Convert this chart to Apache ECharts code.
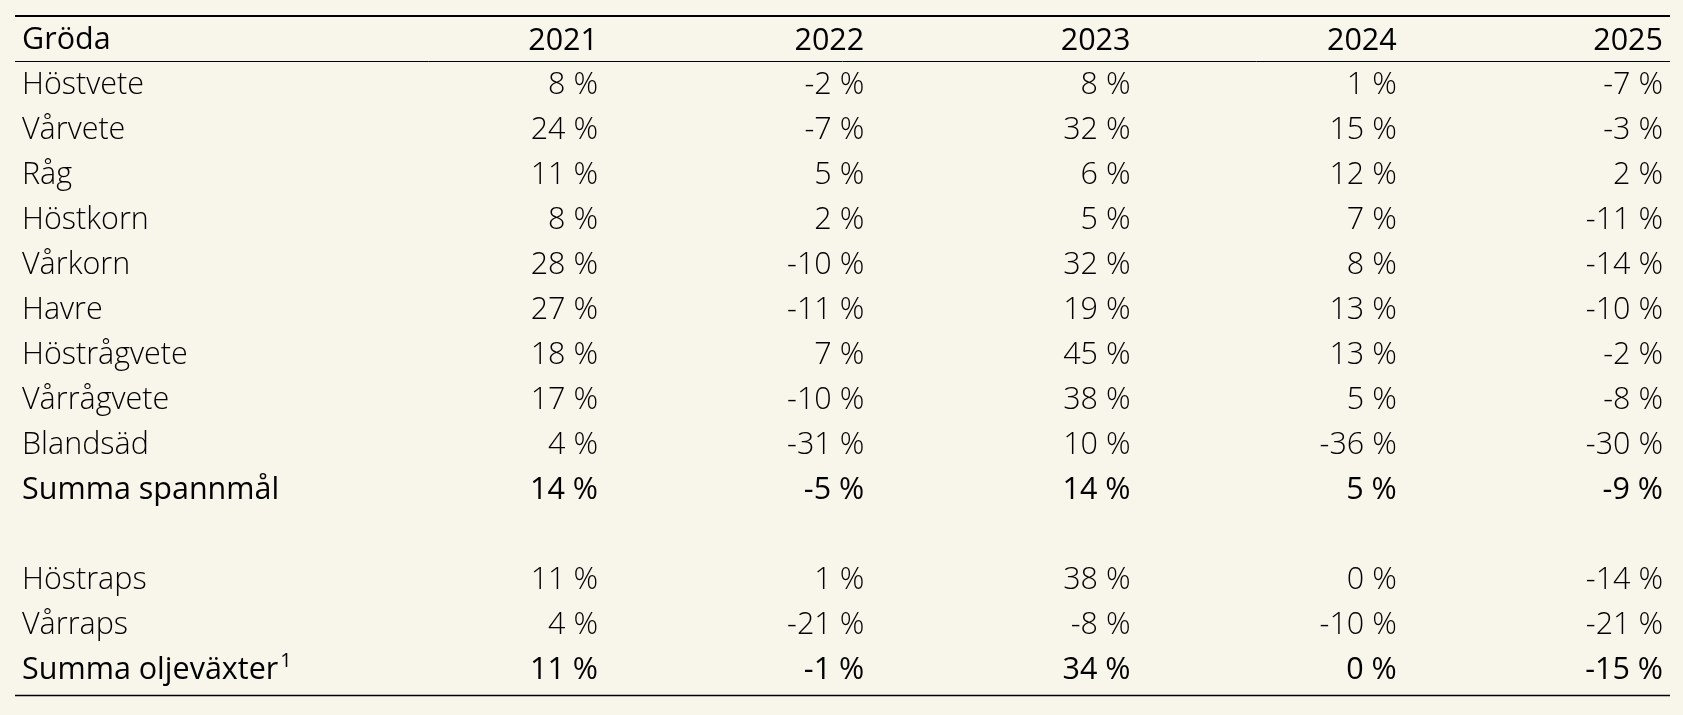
<!DOCTYPE html>
<html>
<head>
<meta charset="utf-8">
<script src="https://cdn.jsdelivr.net/npm/echarts@6/dist/echarts.min.js"></script>
<style>
html,body{margin:0;padding:0;background:#F8F5EA;}
#c{width:1683px;height:715px;}
</style>
</head>
<body>
<div id="c"></div>
<script>
var headerLabel = 'Gröda';
var years = ['2021', '2022', '2023', '2024', '2025'];
var crops = ['Höstvete', 'Vårvete', 'Råg', 'Höstkorn', 'Vårkorn', 'Havre', 'Höstrågvete', 'Vårrågvete', 'Blandsäd', 'Summa spannmål', '', 'Höstraps', 'Vårraps', 'Summa oljeväxter'];
var sumRows = ['Summa spannmål', 'Summa oljeväxter'];
var footnoteRows = ['Summa oljeväxter'];
var v2021 = [8, 24, 11, 8, 28, 27, 18, 17, 4, 14, null, 11, 4, 11];
var v2022 = [-2, -7, 5, 2, -10, -11, 7, -10, -31, -5, null, 1, -21, -1];
var v2023 = [8, 32, 6, 5, 32, 19, 45, 38, 10, 14, null, 38, -8, 34];
var v2024 = [1, 15, 12, 7, 8, 13, 13, 5, -36, 5, null, 0, -10, 0];
var v2025 = [-7, -3, 2, -11, -14, -10, -2, -8, -30, -9, null, -14, -21, -15];
var valuesByYear = [v2021, v2022, v2023, v2024, v2025];

var FONT = '"Open Sans", "DejaVu Sans", sans-serif';
var FS = 30.5;

var data = [];
valuesByYear.forEach(function (arr, yi) {
  arr.forEach(function (v, ri) {
    if (v === null) return;
    var isSum = sumRows.indexOf(crops[ri]) >= 0;
    data.push({
      value: [years[yi], crops[ri], v],
      label: {
        fontWeight: isSum ? 500 : 300,
        color: '#000'
      }
    });
  });
});

var chart = echarts.init(document.getElementById('c'), null, {renderer: 'canvas'});
chart.setOption({
  backgroundColor: '#F8F5EA',
  animation: false,
  title: {
    text: headerLabel,
    left: 18,
    top: 25,
    padding: [0, 4],
    textStyle: {fontFamily: FONT, fontSize: FS, fontWeight: 400, color: '#000'}
  },
  grid: {left: 598, right: 20, top: 62.5, bottom: 22.5, containLabel: false},
  xAxis: {
    type: 'category',
    data: years,
    position: 'top',
    boundaryGap: false,
    axisLine: {show: false},
    axisTick: {show: false},
    splitLine: {show: false},
    axisLabel: {
      align: 'right',
      verticalAlign: 'middle',
      margin: 21,
      fontFamily: FONT,
      fontSize: FS,
      fontWeight: 400,
      color: '#000'
    }
  },
  yAxis: {
    type: 'category',
    data: crops,
    inverse: true,
    axisLine: {show: false},
    axisTick: {show: false},
    splitLine: {show: false},
    axisLabel: {
      align: 'left',
      margin: 576,
      fontFamily: FONT,
      fontSize: FS,
      formatter: function (name) {
        if (footnoteRows.indexOf(name) >= 0) return '{s|' + name + '}{sup|1}';
        if (sumRows.indexOf(name) >= 0) return '{s|' + name + '}';
        return '{n|' + name + '}';
      },
      rich: {
        n: {fontFamily: FONT, fontSize: FS, fontWeight: 300, color: '#000'},
        s: {fontFamily: FONT, fontSize: FS, fontWeight: 500, color: '#000'},
        sup: {fontFamily: FONT, fontSize: 20, fontWeight: 500, color: '#000', verticalAlign: 'top', padding: [0, 0, 18, 2]}
      }
    }
  },
  series: [{
    type: 'scatter',
    symbolSize: 1,
    itemStyle: {color: 'rgba(0,0,0,0)', opacity: 1},
    data: data,
    label: {
      show: true,
      position: 'inside',
      align: 'right',
      verticalAlign: 'middle',
      fontFamily: FONT,
      fontSize: FS,
      color: '#000',
      opacity: 1,
      formatter: function (p) { return p.value[2] + ' %'; }
    }
  }],
  graphic: [
    {type: 'line', shape: {x1: 15, y1: 16, x2: 1670, y2: 16}, style: {stroke: '#000', lineWidth: 2}},
    {type: 'line', shape: {x1: 15, y1: 61.5, x2: 1670, y2: 61.5}, style: {stroke: '#000', lineWidth: 1}},
    {type: 'line', shape: {x1: 15, y1: 695.5, x2: 1670, y2: 695.5}, style: {stroke: '#000', lineWidth: 1.5}}
  ]
});
</script>
</body>
</html>
